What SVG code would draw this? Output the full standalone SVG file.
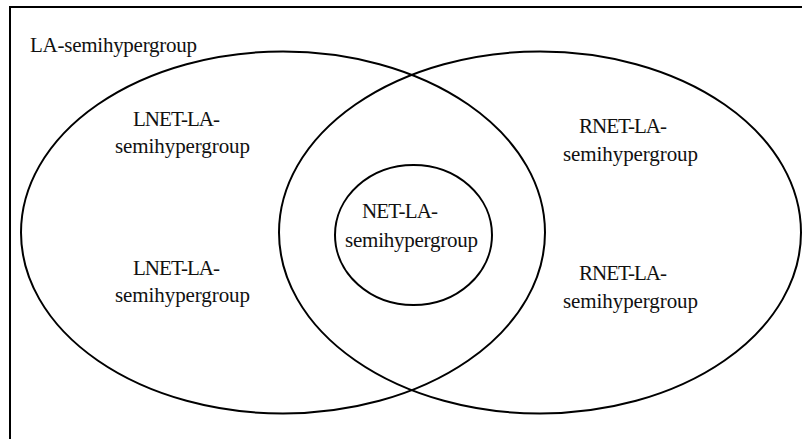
<svg xmlns="http://www.w3.org/2000/svg" width="802" height="439" viewBox="0 0 802 439">
<style>
.s{fill:none;stroke:#000;stroke-width:2}
.t{font-family:"Liberation Serif","Times New Roman",serif;font-size:21px;fill:#111}
</style>
<rect x="0" y="0" width="802" height="439" fill="#fff"/>
<g id="frame"><rect class="s" x="10" y="7" width="810" height="450"/></g>
<g id="la"><text class="t" x="30" y="52" textLength="167">LA-semihypergroup</text></g>
<g id="left-set"><ellipse class="s" cx="283" cy="232.5" rx="262" ry="181"/>
<text class="t" x="133" y="126" textLength="87">LNET-LA-</text>
<text class="t" x="115" y="153" textLength="135">semihypergroup</text>
<text class="t" x="133" y="275" textLength="87">LNET-LA-</text>
<text class="t" x="115" y="302" textLength="135">semihypergroup</text></g>
<g id="right-set"><ellipse class="s" cx="540" cy="232.5" rx="261" ry="181"/>
<text class="t" x="579" y="133" textLength="88">RNET-LA-</text>
<text class="t" x="563" y="161" textLength="135">semihypergroup</text>
<text class="t" x="579" y="280" textLength="88">RNET-LA-</text>
<text class="t" x="563" y="308" textLength="135">semihypergroup</text></g>
<g id="net"><ellipse class="s" cx="413.5" cy="235" rx="78.5" ry="70"/>
<text class="t" x="362" y="218" textLength="76">NET-LA-</text>
<text class="t" x="345" y="247" textLength="133">semihypergroup</text></g>
<g id="connectors"/>
</svg>
